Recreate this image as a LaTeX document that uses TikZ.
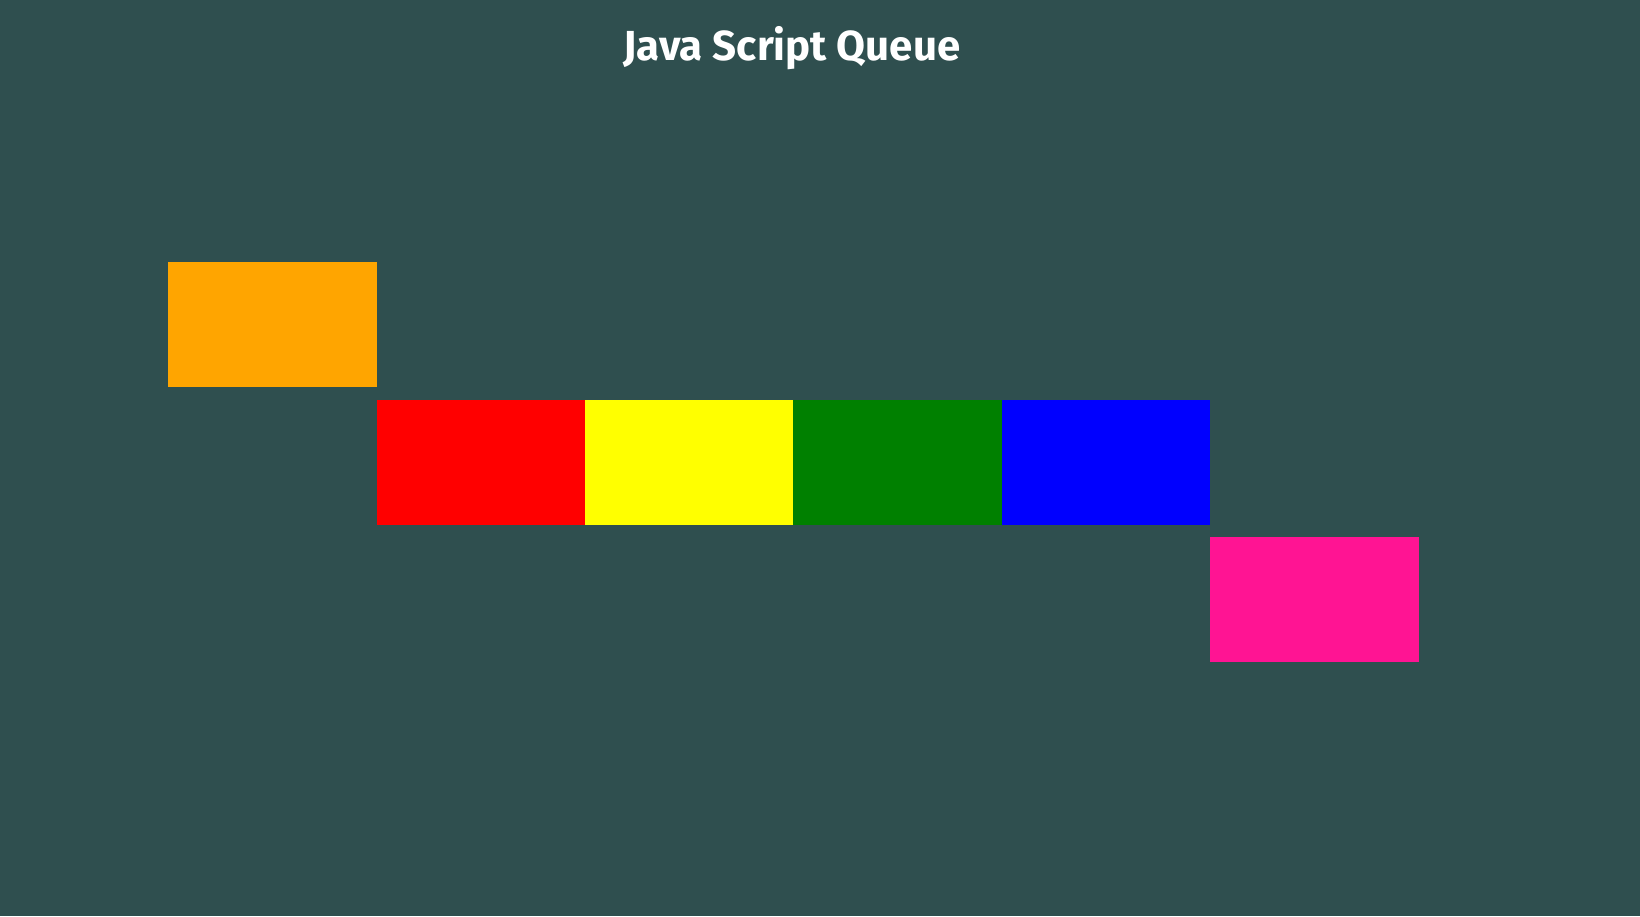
\documentclass[tikz,border=0pt]{standalone}
\usepackage{fontspec}
\setmainfont{Fira Sans}
\definecolor{bg}{HTML}{2F4F4F}
\definecolor{qorange}{HTML}{FFA500}
\definecolor{qred}{HTML}{FF0000}
\definecolor{qyellow}{HTML}{FFFF00}
\definecolor{qgreen}{HTML}{008000}
\definecolor{qblue}{HTML}{0000FF}
\definecolor{qpink}{HTML}{FF1493}
\begin{document}
\begin{tikzpicture}[x=1pt,y=-1pt,
  qbox/.style={draw=none,minimum width=208.6pt,minimum height=124.6pt,inner sep=0pt,outer sep=0pt,anchor=north west}]
\fill[bg] (0,0) rectangle (1640,916);
\useasboundingbox (0,0) rectangle (1640,916);
\node[text=white,font=\bfseries\fontsize{42}{50}\selectfont,anchor=base] (title) at (792,60) {Java Script Queue};
\node[qbox,fill=qorange] (orange) at (168.2,262.4) {};
\node[qbox,fill=qred] (red) at (376.6,400.2) {};
\node[qbox,fill=qyellow] (yellow) at (585.0,400.2) {};
\node[qbox,fill=qgreen] (green) at (793.4,400.2) {};
\node[qbox,fill=qblue] (blue) at (1001.8,400.2) {};
\node[qbox,fill=qpink] (pink) at (1210.2,537.4) {};
\end{tikzpicture}
\end{document}
